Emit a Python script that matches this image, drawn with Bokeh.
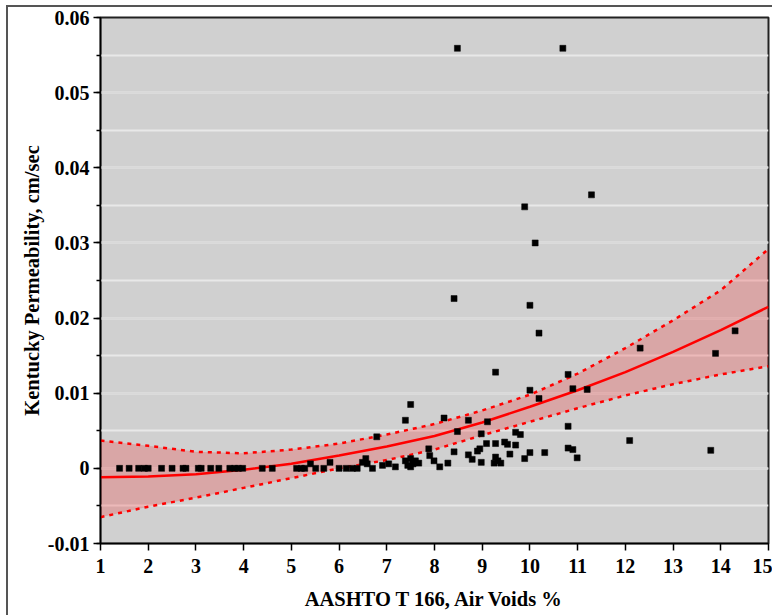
from bokeh.plotting import figure
from bokeh.models import SingleIntervalTicker, Range1d, ColumnDataSource
from bokeh.embed import file_html
from bokeh.resources import INLINE

# Scatter data (air voids %, permeability cm/sec)
air_voids = [
    1.40, 1.60, 1.80, 1.92, 2.00, 2.28, 2.50, 2.73, 2.79, 3.05, 3.11, 3.31, 3.48,
    3.71, 3.81, 3.89, 3.98, 4.39, 4.60, 5.11, 5.21, 5.28,
    5.40, 5.51, 5.68, 5.81, 6.00, 6.15, 6.28, 6.38,
    6.49, 6.56, 6.59, 6.70, 6.79, 6.91, 7.04, 7.18,
    7.39, 7.50, 7.39, 7.50, 7.60, 7.44, 7.55, 7.67, 7.50,
    7.88, 7.90, 7.99, 8.11, 8.28, 8.20,
    8.41, 8.48, 8.48, 8.41, 8.71, 9.11,
    8.98, 9.70, 9.80, 10.80,
    9.09, 9.28, 9.47, 9.53, 9.70,
    8.95, 8.90, 8.71, 8.79, 9.58, 10.00, 10.31, 10.80, 10.90, 10.99,
    9.28, 9.33, 9.25, 9.39, 9.89, 8.98,
    9.28, 10.80, 10.00, 10.19, 10.90, 11.20,
    9.89, 10.11, 10.00, 10.19, 11.29, 10.69,
    12.31, 13.89, 14.30, 12.09, 13.79,
]
permeability = [
    0.0, 0.0, 0.0, 0.0, 0.0, 0.0, 0.0, 0.0, 0.0, 0.0, 0.0, 0.0, 0.0,
    0.0, 0.0, 0.0, 0.0, 0.0, 0.0, 0.0, 0.0, 0.0,
    0.0006, 0.0, 0.0, 0.0008, 0.0, 0.0, 0.0, 0.0,
    0.0008, 0.0013, 0.0006, 0.0, 0.0042, 0.0004, 0.0006, 0.0002,
    0.0064, 0.0085, 0.0010, 0.0013, 0.0010, 0.0004, 0.0006, 0.0007, 0.0002,
    0.0026, 0.0017, 0.0010, 0.0002, 0.0007, 0.0067,
    0.0226, 0.0559, 0.0049, 0.0022, 0.0064, 0.0062,
    0.0046, 0.0048, 0.0045, 0.0056,
    0.0033, 0.0033, 0.0035, 0.0032, 0.0031,
    0.0026, 0.0023, 0.0018, 0.0012, 0.0019, 0.0021, 0.0021, 0.0027, 0.0025, 0.0014,
    0.0015, 0.0010, 0.0007, 0.0007, 0.0013, 0.0008,
    0.0128, 0.0125, 0.0104, 0.0093, 0.0106, 0.0105,
    0.0348, 0.0300, 0.0217, 0.0180, 0.0364, 0.0559,
    0.0160, 0.0153, 0.0183, 0.0037, 0.0024,
]

# Regression curve and confidence band, read at integer air voids
fit_x = [1, 2, 3, 4, 5, 6, 7, 8, 9, 10, 11, 12, 13, 14, 15]
fit_y = [-0.0012, -0.0011, -0.0008, -0.0002, 0.0006, 0.0017, 0.0029, 0.0043,
         0.0061, 0.0082, 0.0104, 0.0128, 0.0155, 0.0184, 0.0215]
upper_y = [0.0037, 0.0030, 0.0022, 0.0020, 0.0025, 0.0033, 0.0045, 0.0059,
           0.0077, 0.0098, 0.0126, 0.0160, 0.0197, 0.0237, 0.0292]
lower_y = [-0.0065, -0.0051, -0.0039, -0.0026, -0.0013, 0.0000, 0.0011, 0.0025,
           0.0044, 0.0062, 0.0080, 0.0097, 0.0112, 0.0125, 0.0136]

x_title = "AASHTO T 166, Air Voids %"
y_title = "Kentucky Permeability, cm/sec"

FONT = "Liberation Serif"

p = figure(width=772, height=615, output_backend="svg", toolbar_location=None,
           x_range=Range1d(1, 15), y_range=Range1d(-0.01, 0.06),
           min_border_left=100, min_border_right=4, min_border_top=17, min_border_bottom=72)
# outer frame lines of the original picture (top and left edges)
p.border_fill_color = None
p.styles = {"background": "linear-gradient(#555555,#555555) 6px 5px / 766px 2px no-repeat, "
                          "linear-gradient(#555555,#555555) 6px 5px / 2px 610px no-repeat, #ffffff"}

p.background_fill_color = "#d0d0d0"
p.outline_line_color = "#222222"
p.outline_line_width = 2

# grids
p.xgrid.grid_line_color = None
p.ygrid.grid_line_color = "#d9d9d9"
p.ygrid.grid_line_width = 2
p.ygrid.minor_grid_line_color = "#e8e8e8"
p.ygrid.minor_grid_line_width = 2

# axes
p.xaxis.ticker = SingleIntervalTicker(interval=1, num_minor_ticks=0)
p.yaxis.ticker = SingleIntervalTicker(interval=0.01, num_minor_ticks=2)
p.ygrid.ticker = p.yaxis.ticker
for ax in (p.xaxis[0], p.yaxis[0]):
    ax.axis_line_color = "black"
    ax.axis_line_width = 1.5
    ax.major_tick_line_color = "black"
    ax.major_tick_line_width = 1.5
    ax.major_tick_out = 7
    ax.major_tick_in = 0
    ax.minor_tick_line_color = "black"
    ax.minor_tick_line_width = 1.5
    ax.minor_tick_out = 4
    ax.minor_tick_in = 0
    ax.major_label_text_font = FONT
    ax.major_label_text_font_style = "bold"
    ax.major_label_text_font_size = "20px"
    ax.major_label_text_color = "black"
    ax.axis_label_text_font = FONT
    ax.axis_label_text_font_style = "bold"
    ax.axis_label_text_font_size = "20.5px"
    ax.axis_label_text_color = "black"

p.xaxis.axis_label = x_title
p.yaxis.axis_label = y_title
p.xaxis.major_label_standoff = 8
p.yaxis.major_label_standoff = 4
p.xaxis.axis_label_standoff = 12
p.yaxis.axis_label_standoff = 2
p.yaxis.major_label_overrides = {-0.01: "-0.01", 0: "0", 0.01: "0.01", 0.02: "0.02",
                                 0.03: "0.03", 0.04: "0.04", 0.05: "0.05", 0.06: "0.06"}

# confidence band
p.varea(x=fit_x, y1=lower_y, y2=upper_y, fill_color="red", fill_alpha=0.2)
p.line(fit_x, upper_y, line_color="red", line_width=2.5, line_dash="4 5")
p.line(fit_x, lower_y, line_color="red", line_width=2.5, line_dash="4 5")
p.line(fit_x, fit_y, line_color="red", line_width=2.5)

src = ColumnDataSource(dict(x=air_voids, y=permeability))
p.scatter("x", "y", source=src, marker="square", size=6, fill_color="black",
          line_color="black", line_width=0.5)

open("out.html", "w").write(file_html(p, INLINE))
